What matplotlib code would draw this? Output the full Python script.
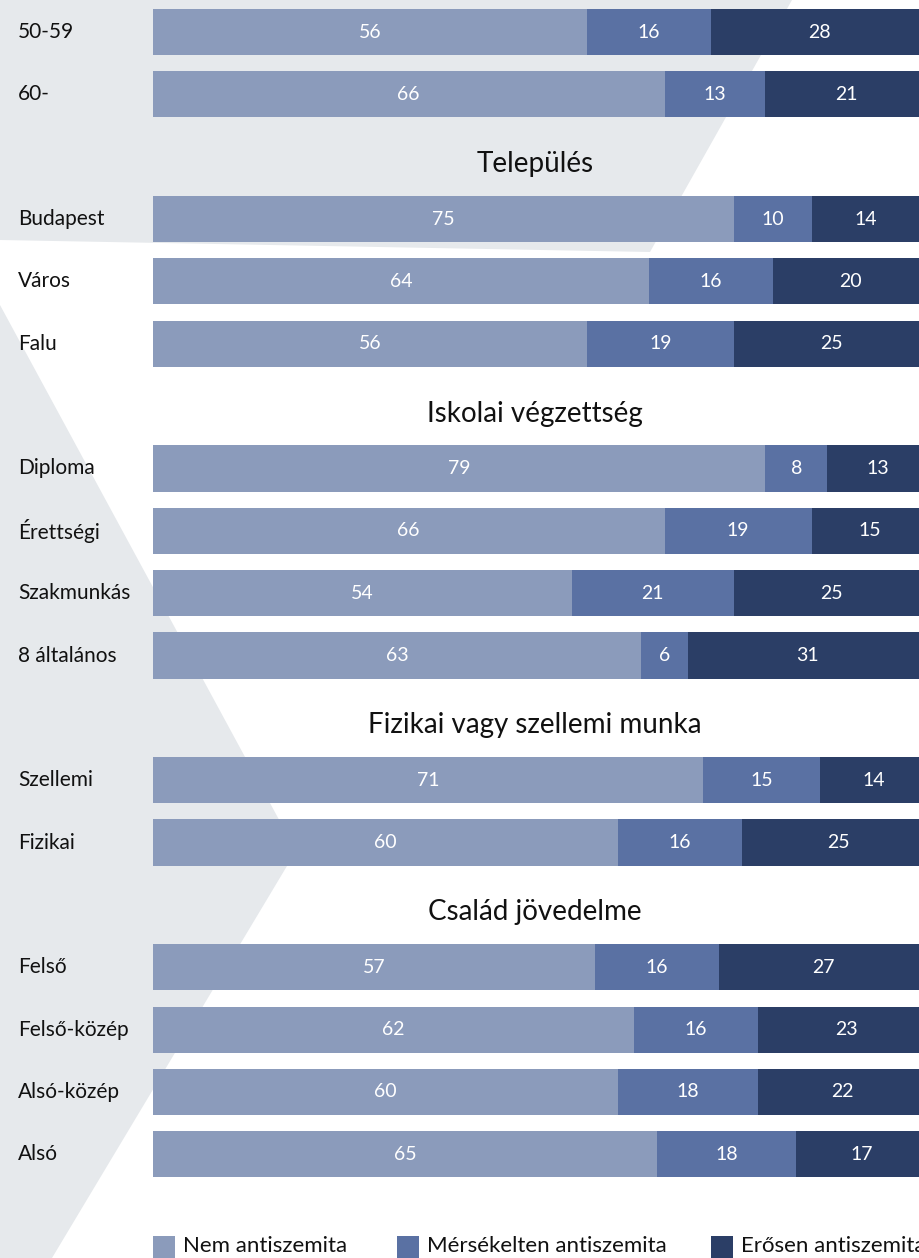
import numpy as np
import matplotlib.pyplot as plt
from matplotlib.patches import Polygon, Rectangle
import matplotlib.transforms as mtransforms

plt.rcParams['font.family'] = ['Lato', 'DejaVu Sans']

# groups and rows (top of the chart is cut off in the source)
sections = [
    (None, ['50-59', '60-']),
    ('Település', ['Budapest', 'Város', 'Falu']),
    ('Iskolai végzettség', ['Diploma', 'Érettségi', 'Szakmunkás', '8 általános']),
    ('Fizikai vagy szellemi munka', ['Szellemi', 'Fizikai']),
    ('Család jövedelme', ['Felső', 'Felső-közép', 'Alsó-közép', 'Alsó']),
]

nem = [56, 66, 75, 64, 56, 79, 66, 54, 63, 71, 60, 57, 62, 60, 65]
merseklet = [16, 13, 10, 16, 19, 8, 19, 21, 6, 15, 16, 16, 16, 18, 18]
erosen = [28, 21, 14, 20, 25, 13, 15, 25, 31, 14, 25, 27, 23, 22, 17]

series_names = ['Nem antiszemita', 'Mérsékelten antiszemita', 'Erősen antiszemita']
colors = ['#8b9bbb', '#5a71a3', '#2b3e66']

W, H = 919, 1258
fig = plt.figure(figsize=(W / 100, H / 100), dpi=100)

# background decoration
bg = fig.add_axes([0, 0, 1, 1])
bg.set_xlim(0, W)
bg.set_ylim(H, 0)
bg.axis('off')
grey = '#e6e9ec'
bg.add_patch(Polygon([(0, 0), (792, 0), (650, 252), (0, 240)], closed=True,
                     facecolor=grey, edgecolor='none'))
bg.add_patch(Polygon([(0, 305), (296, 851), (52, 1258), (0, 1258)], closed=True,
                     facecolor=grey, edgecolor='none'))

# bar axes: x 153..928 px, row i centred at 32 + 62.35*i px
x0, x1 = 153, 928
step, top = 62.35, 32
ax = fig.add_axes([x0 / W, 0, (x1 - x0) / W, 1])
ax.set_xlim(0, 100)
ax.set_ylim((H - top) / step, -top / step)
ax.axis('off')
ax.patch.set_alpha(0)

rows = []
titles = []
idx = 0
for title, cats in sections:
    if title is not None:
        titles.append((idx, title))
        idx += 1
    for c in cats:
        rows.append((idx, c))
        idx += 1

ypos = np.array([r[0] for r in rows])
labels = [r[1] for r in rows]
data = [nem, merseklet, erosen]

left = np.zeros(len(rows))
for vals, col, name in zip(data, colors, series_names):
    vals = np.array(vals)
    bars = ax.barh(ypos, vals, left=left, height=0.74, color=col, label=name)
    for b, v in zip(bars, vals):
        ax.text(b.get_x() + b.get_width() / 2, b.get_y() + b.get_height() / 2,
                str(v), ha='center', va='center', color='white', fontsize=14)
    left += vals

trans = mtransforms.blended_transform_factory(fig.transFigure, ax.transData)
for y, lab in zip(ypos, labels):
    ax.text(18 / W, y, lab, transform=trans, ha='left', va='center',
            fontsize=15, color='#111111')

for y, t in titles:
    ax.text(49.3, y + 0.12, t, ha='center', va='center', fontsize=20,
            color='#111111')

# legend (bottom, partly cut off in the source)
leg_x = [153, 397, 711]
for lx, col, name in zip(leg_x, colors, series_names):
    bg.add_patch(Rectangle((lx, 1236), 22, 26, facecolor=col, edgecolor='none'))
    bg.text(lx + 30, 1246, name, ha='left', va='center', fontsize=16,
            color='#111111')

fig.savefig('out.png', dpi=100)
